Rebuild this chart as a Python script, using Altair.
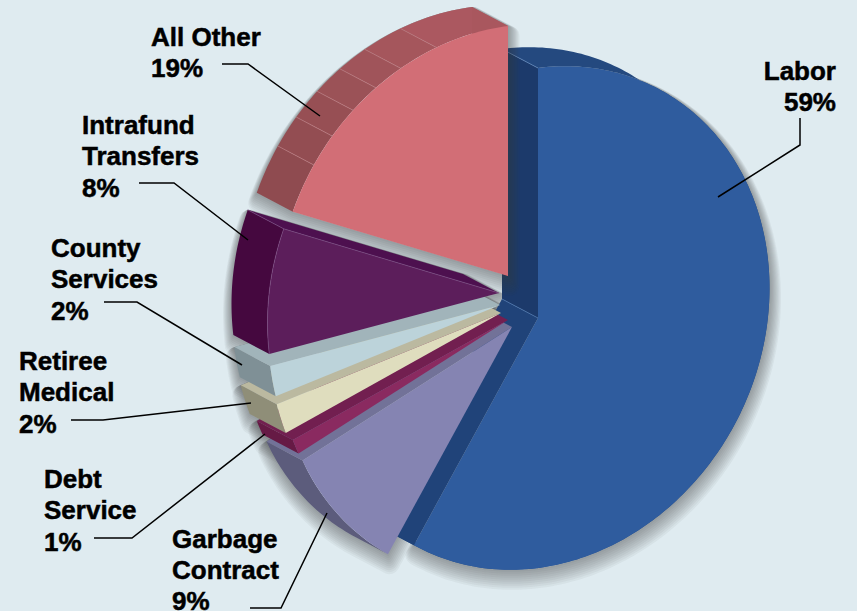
import math
import altair as alt
import pandas as pd

# Budget shares, in the order they run clockwise from twelve o'clock
NAMES = ["Labor", "Garbage Contract", "Debt Service", "Retiree Medical",
         "County Services", "Intrafund Transfers", "All Other"]
SHARES = [59, 9, 1, 2, 2, 8, 19]

# Slice styling: front face, outer wall, upper cut wall
FRONT = ["#2f5c9e", "#8584b2", "#8a2a60", "#dfddbe", "#bcd3da", "#5c1e5b", "#d26e76"]
OUTER = ["#24497f", "#5c5c7c", "#661a45", "#8f8e78", "#7f9096", "#45083f", "#9b5358"]
UPPER = ["#1c3a6b", "#727298", "#721f50", "#bbb9a0", "#a1b4ba", "#4d104f", "#a9575e"]
LABOR_LOWER_WALL = "#204379"

# Where each slice's tip sits after being pulled out of the pie
TIP_X = [538, 512, 508, 501, 500, 499, 508]
TIP_Y = [318, 327, 320, 313, 305, 293, 276]

# View of the tilted pie: semi-axes, skew and extrusion depth
RX, RY, SKEW = 231.5, 250, -30
DEPTH_X, DEPTH_Y = -36, -19

# Soft drop shadow built from widening, slowly shifting strokes
SHADOW_REACH = list(range(1, 11))
SHADOW_SHIFT_X, SHADOW_SHIFT_Y = 0.15, 1.0
SHADOW_COLOR = "#3a3d3c"
SHADOW_OPACITY = 0.05

# Facets along the outer wall of the "All Other" slice (degrees clockwise from top)
FACET_ANGLES = [291.6, 303, 310.6, 318, 325.2, 332.4, 342, 360]
FACET_COLORS = ["#8f4b50", "#934d52", "#974f54", "#9b5257", "#a0545a", "#a5565c", "#ab5860"]

LABEL_X = [836, 172, 44, 19, 51, 82, 151]
LABEL_Y = [80, 547.5, 488, 370, 257, 134, 46]
LABEL_LINES = [["Labor", "59%"], ["Garbage", "Contract", "9%"], ["Debt", "Service", "1%"],
               ["Retiree", "Medical", "2%"], ["County", "Services", "2%"],
               ["Intrafund", "Transfers", "8%"], ["All Other", "19%"]]
LINE_STEP = 31.4

LEADERS = [
    [(800, 118), (800, 145), (718, 197)],
    [(250, 608), (281, 608), (327, 513)],
    [(94, 538), (132, 538), (265, 434)],
    [(71, 420), (103, 420), (251, 403)],
    [(104, 302), (137, 302), (242, 365)],
    [(139, 183), (174, 183), (248, 240)],
    [(222, 64), (248, 64), (320, 116)],
]

BG = "#dfebf0"
W, H = 857, 611

xs = alt.X("x:Q", scale=alt.Scale(domain=[0, W], range=[0, W]), axis=None)
ys = alt.Y("y:Q", scale=alt.Scale(domain=[0, H], range=[0, H]), axis=None)


def rim(tip, deg):
    """Point on a slice's rim at a given angle clockwise from the top."""
    t = math.radians(deg)
    return (tip[0] + RX * math.sin(t), tip[1] - RY * math.cos(t) + SKEW * math.sin(t))


def arc(tip, a, b):
    steps = max(2, int(abs(b - a)))
    return [rim(tip, a + (b - a) * k / steps) for k in range(steps + 1)]


def back(points):
    return [(x + DEPTH_X, y + DEPTH_Y) for x, y in points]


def frame(points, group=0):
    return pd.DataFrame({"x": [p[0] for p in points], "y": [p[1] for p in points],
                         "i": range(len(points)), "g": group})


def polygon(points, color):
    return alt.Chart(frame(points)).mark_line(
        fill=color, strokeWidth=0, interpolate="linear-closed"
    ).encode(x=xs, y=ys, order=alt.Order("i:Q"))


def stroke(points, color, width=0.8, opacity=1.0):
    return alt.Chart(frame(points)).mark_line(
        color=color, strokeWidth=width, opacity=opacity
    ).encode(x=xs, y=ys, order=alt.Order("i:Q"))


def hull(points):
    pts = sorted(set(points))

    def half(seq):
        out = []
        for p in seq:
            while len(out) >= 2 and ((out[-1][0] - out[-2][0]) * (p[1] - out[-2][1])
                                     - (out[-1][1] - out[-2][1]) * (p[0] - out[-2][0])) <= 0:
                out.pop()
            out.append(p)
        return out[:-1]

    return half(pts) + half(pts[::-1])


def shadows(outlines):
    result = []
    for reach in SHADOW_REACH:
        dx, dy = reach * SHADOW_SHIFT_X, reach * SHADOW_SHIFT_Y
        data = pd.concat([frame([(x + dx, y + dy) for x, y in pts], n)
                          for n, pts in enumerate(outlines)])
        result.append(alt.Chart(data).mark_line(
            color=SHADOW_COLOR, strokeOpacity=SHADOW_OPACITY, strokeWidth=reach * 2,
            strokeJoin="round", interpolate="linear-closed"
        ).encode(x=xs, y=ys, order=alt.Order("i:Q"), detail="g:N"))
    return result


# Slice angle ranges follow directly from the shares
edges = [0]
for share in SHARES:
    edges.append(edges[-1] + share * 3.6)

tips = list(zip(TIP_X, TIP_Y))
sector = [[tips[k]] + arc(tips[k], edges[k], edges[k + 1]) for k in range(len(SHARES))]
outlines = [hull(sector[k] + back(sector[k])) for k in range(1, len(SHARES))]

layers = []
layers += shadows([sector[0]] + outlines[:-1])

# Labor: back rim, both cut walls, front face
labor_rim = arc(tips[0], edges[0], edges[1])
layers.append(polygon(labor_rim + back(labor_rim)[::-1], OUTER[0]))
top_edge = [tips[0], rim(tips[0], 0)]
layers.append(polygon(top_edge + back(top_edge)[::-1], UPPER[0]))
low_edge = [tips[0], rim(tips[0], edges[1])]
layers.append(polygon(low_edge + back(low_edge)[::-1], LABOR_LOWER_WALL))
layers.append(polygon(sector[0], FRONT[0]))
layers.append(stroke([rim(tips[0], 0), back([rim(tips[0], 0)])[0]], "#5f86ba"))
layers.append(stroke([tips[0], back([tips[0]])[0]], "#4a73ab"))

layers += shadows([outlines[-1]])

# Remaining slices, painted from the bottom of the stack upward
for k in range(1, len(SHARES)):
    tip = tips[k]
    lo, hi = edges[k], edges[k + 1]
    if NAMES[k] == "All Other":
        for f, color in enumerate(FACET_COLORS):
            band = arc(tip, FACET_ANGLES[f], FACET_ANGLES[f + 1])
            layers.append(polygon(band + back(band)[::-1], color))
    else:
        band = arc(tip, lo, hi)
        layers.append(polygon(band + back(band)[::-1], OUTER[k]))
    upper = [tip, rim(tip, hi)]
    layers.append(polygon(upper + back(upper)[::-1], UPPER[k]))
    layers.append(polygon(sector[k], FRONT[k]))
    if NAMES[k] == "All Other":
        for angle in FACET_ANGLES[1:-1]:
            p = rim(tip, angle)
            layers.append(stroke([p, back([p])[0]], "#bb7a80", 0.7))
    if NAMES[k] == "Intrafund Transfers":
        layers.append(stroke([tip, rim(tip, hi), back([rim(tip, hi)])[0]], "#7d4d85", 0.7))
        layers.append(stroke(arc(tip, lo, hi), "#7d4d85", 0.6))

# Leader lines
for path in LEADERS:
    layers.append(stroke(path, "#000000", 1.5))

# Labels, one mark per line of text
rows = []
for k, lines in enumerate(LABEL_LINES):
    for n, line in enumerate(lines):
        rows.append({"x": LABEL_X[k], "y": LABEL_Y[k] + n * LINE_STEP, "t": line,
                     "right": NAMES[k] == "Labor"})
labels = pd.DataFrame(rows)
text_style = dict(font="Liberation Sans", fontWeight="bold", fontSize=26,
                  baseline="alphabetic", color="#000000", stroke="#000000", strokeWidth=0.5)
layers.append(alt.Chart(labels[~labels.right]).mark_text(align="left", **text_style)
              .encode(x=xs, y=ys, text="t:N"))
layers.append(alt.Chart(labels[labels.right]).mark_text(align="right", **text_style)
              .encode(x=xs, y=ys, text="t:N"))

chart = alt.layer(*layers).properties(
    width=W, height=H, background=BG, padding=0,
    autosize=alt.AutoSizeParams(type="none")
).configure_view(stroke=None)

chart.save("out.html", embed_options={"renderer": "svg", "actions": False})
